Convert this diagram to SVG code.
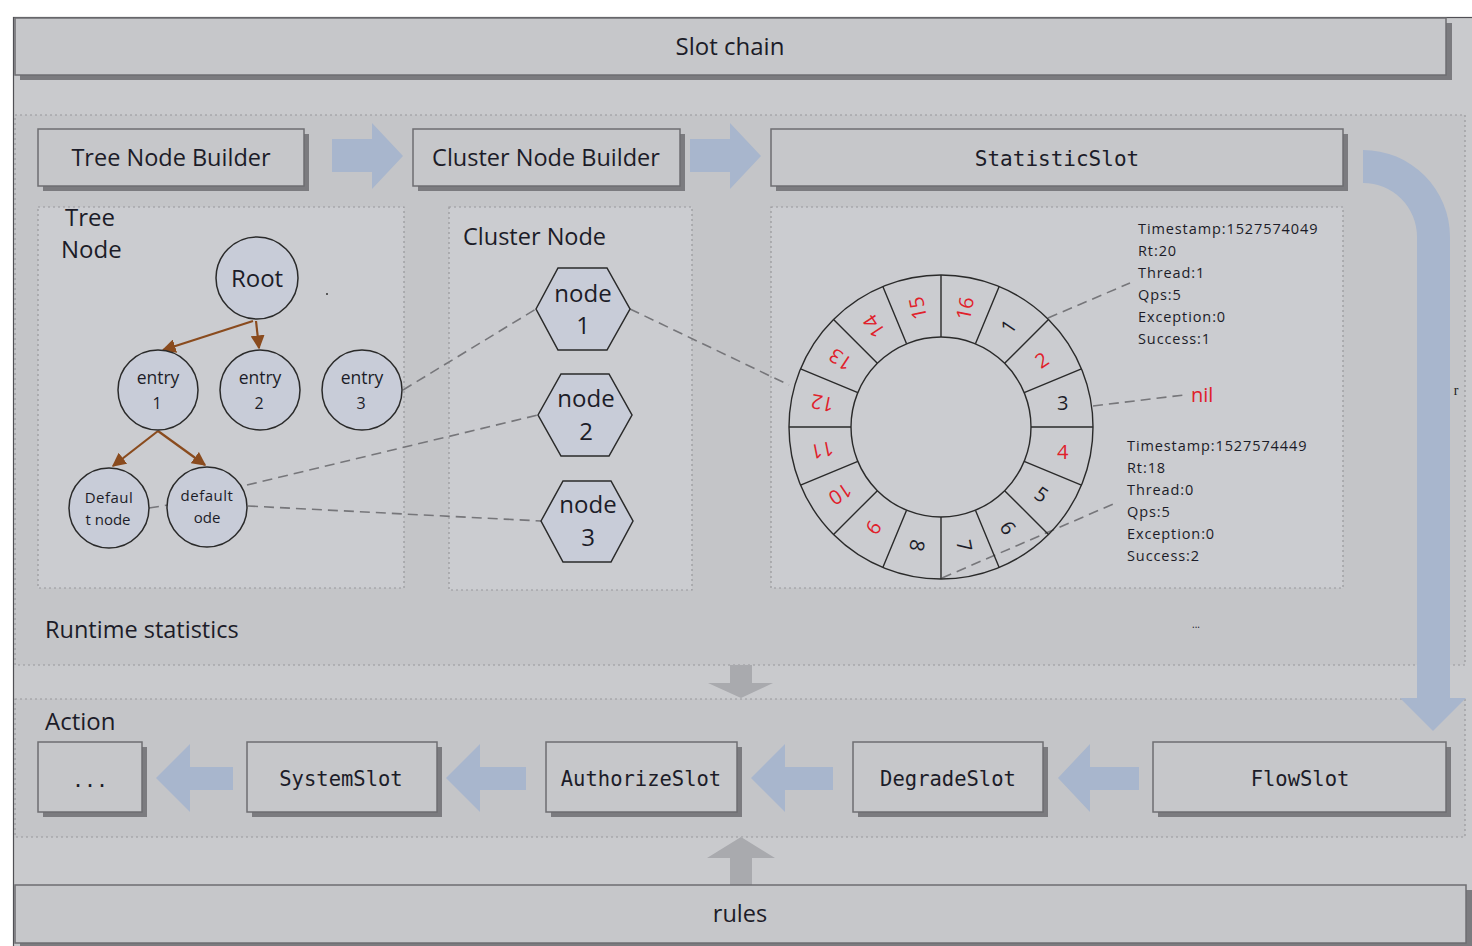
<svg xmlns="http://www.w3.org/2000/svg" width="1472" height="946" viewBox="0 0 1472 946">
<defs>
<style>
.t{font-family:"Open Sans","Noto Sans","Liberation Sans",sans-serif;fill:#1c1c28}
.m{font-family:"DejaVu Sans Mono","Liberation Mono",monospace;fill:#1c1c28}
.box{fill:#c6c7ca;stroke:#6e6e72;stroke-width:1.5}
.sh{fill:#7b7b7f}
.dot{fill:#c4c5c8;stroke:#98989c;stroke-width:1.2;stroke-dasharray:2 3}
.idot{fill:#cbccd0;stroke:#98989c;stroke-width:1.2;stroke-dasharray:2 3}
.blue{fill:#a8b6cd}
.gray{fill:#a9aaae}
.nd{fill:#c8ccd8;stroke:#2a2a2a;stroke-width:1.5}
.br{stroke:#8a4b1e;stroke-width:2.2;fill:none;marker-end:url(#ah)}
.dash{stroke:#76767a;stroke-width:1.6;fill:none;stroke-dasharray:10 6}
.ring{fill:none;stroke:#2a2a2a;stroke-width:1.4}
.rl{font-family:"Open Sans","Noto Sans","Liberation Sans",sans-serif;font-size:20px;text-anchor:middle;dominant-baseline:central}
.red{fill:#e0202a}
.blk{fill:#1c1c28}
.st{font-family:"Open Sans","Noto Sans","Liberation Sans",sans-serif;font-size:14.5px;letter-spacing:0.9px;fill:#1c1c28}
</style>
<marker id="ah" viewBox="0 0 10 10" refX="9" refY="5" markerWidth="14" markerHeight="14" markerUnits="userSpaceOnUse" orient="auto">
<path d="M0,0 L10,5 L0,10 Z" fill="#8a4b1e"/>
</marker>
</defs>

<rect x="0" y="0" width="1472" height="946" fill="#ffffff"/>
<rect x="13.5" y="17.5" width="1470" height="940" fill="#c9cacd" stroke="#505055" stroke-width="1.2"/>

<g id="slot-chain">
<rect class="sh" x="20" y="23" width="1432" height="57"/>
<rect class="box" x="15" y="18" width="1431" height="57"/>
<text class="t" x="730" y="55" font-size="24" text-anchor="middle">Slot chain</text>
</g>

<g id="runtime-region">
<rect class="dot" x="15" y="115" width="1450" height="550"/>
<text class="t" x="45" y="638" font-size="23.5">Runtime statistics</text>
<text class="t" x="1196" y="628" font-size="10" text-anchor="middle">...</text>
</g>

<g id="action-region">
<rect class="dot" x="15" y="699" width="1450" height="138"/>
<text class="t" x="45" y="730" font-size="24">Action</text>
</g>

<g id="tree-node-builder">
<rect class="sh" x="43" y="134" width="266" height="57"/>
<rect class="box" x="38" y="129" width="266" height="57"/>
<text class="t" x="171" y="166" font-size="23.5" text-anchor="middle">Tree Node Builder</text>
</g>
<g id="cluster-node-builder">
<rect class="sh" x="418" y="134" width="267" height="57"/>
<rect class="box" x="413" y="129" width="267" height="57"/>
<text class="t" x="546" y="166" font-size="23.5" text-anchor="middle">Cluster Node Builder</text>
</g>
<g id="statistic-slot">
<rect class="sh" x="776" y="134" width="572" height="57"/>
<rect class="box" x="771" y="129" width="572" height="57"/>
<text class="m" x="1057" y="166" font-size="21" text-anchor="middle">StatisticSlot</text>
</g>

<g id="tree-node-area">
<rect class="idot" x="38" y="207" width="366" height="381"/>
<text class="t" x="65" y="226" font-size="24">Tree</text>
<text class="t" x="61" y="258" font-size="24">Node</text>
<circle cx="327" cy="294" r="1" fill="#333"/>
</g>
<g id="cluster-node-area">
<rect class="idot" x="449" y="207" width="243" height="383"/>
<text class="t" x="463" y="245" font-size="23.5">Cluster Node</text>
</g>
<g id="statistic-area">
<rect class="idot" x="771" y="207" width="572" height="381"/>
</g>

<g id="connectors">
<line class="dash" x1="403" y1="390" x2="536" y2="309"/>
<line class="dash" x1="247" y1="485" x2="538" y2="415"/>
<line class="dash" x1="248" y1="506" x2="541" y2="521"/>
<line class="dash" x1="149" y1="508" x2="168" y2="505"/>
<line class="dash" x1="630" y1="309" x2="789" y2="385"/>
<line class="dash" x1="1048" y1="318" x2="1130" y2="283"/>
<line class="dash" x1="1093" y1="406" x2="1184" y2="395"/>
<line class="dash" x1="942" y1="578" x2="1118" y2="502"/>
<line class="br" x1="253" y1="321" x2="163" y2="350"/>
<line class="br" x1="256" y1="321" x2="259" y2="348"/>
<line class="br" x1="158" y1="431" x2="113" y2="466"/>
<line class="br" x1="158" y1="431" x2="205" y2="465"/>
<polygon class="blue" points="332,139 372,139 372,123 403,156 372,189 372,172 332,172"/>
<polygon class="blue" points="690,139 730,139 730,123 761,156 730,189 730,172 690,172"/>
<path class="blue" d="M1363,150 A87,87 0 0 1 1450,237 L1450,698 L1466,698 L1433,731 L1400,698 L1417,698 L1417,237 A54,54 0 0 0 1363,183 Z"/>
<polygon class="blue" points="233,767 190,767 190,744 156,778 190,812 190,790 233,790"/>
<polygon class="blue" points="526,767 480,767 480,744 446,778 480,812 480,790 526,790"/>
<polygon class="blue" points="833,767 785,767 785,744 751,778 785,812 785,790 833,790"/>
<polygon class="blue" points="1139,767 1090,767 1090,744 1058,778 1090,812 1090,790 1139,790"/>
<polygon class="gray" points="730,665 752,665 752,683 773,683 741,698 708,683 730,683"/>
<polygon class="gray" points="730,885 752,885 752,858 775,858 741,837 707,858 730,858"/>
</g>

<g id="root"><circle class="nd" cx="257" cy="278" r="41"/><text class="t" x="257" y="287" font-size="24" text-anchor="middle">Root</text></g>
<g id="entry1"><circle class="nd" cx="158" cy="390" r="40"/><text class="t" x="158" y="384" font-size="17.5" text-anchor="middle">entry</text><text class="t" x="157" y="409" font-size="16" text-anchor="middle">1</text></g>
<g id="entry2"><circle class="nd" cx="260" cy="390" r="40"/><text class="t" x="260" y="384" font-size="17.5" text-anchor="middle">entry</text><text class="t" x="259" y="409" font-size="16" text-anchor="middle">2</text></g>
<g id="entry3"><circle class="nd" cx="362" cy="390" r="40"/><text class="t" x="362" y="384" font-size="17.5" text-anchor="middle">entry</text><text class="t" x="361" y="409" font-size="16" text-anchor="middle">3</text></g>
<g id="default-node-1"><circle class="nd" cx="109" cy="508" r="40"/><text class="t" x="109" y="503" font-size="15" text-anchor="middle" letter-spacing="0.5">Defaul</text><text class="t" x="108" y="525" font-size="15" text-anchor="middle">t node</text></g>
<g id="default-node-2"><circle class="nd" cx="207" cy="507" r="40"/><text class="t" x="207" y="501" font-size="15" text-anchor="middle" letter-spacing="0.5">default</text><text class="t" x="207" y="523" font-size="15" text-anchor="middle">ode</text></g>

<g id="node1"><polygon class="nd" points="536,309 558,268 607,268 630,309 607,350 558,350"/><text class="t" x="583" y="302" font-size="24" text-anchor="middle">node</text><text class="t" x="583" y="334" font-size="24" text-anchor="middle">1</text></g>
<g id="node2"><polygon class="nd" points="538,415 561,374 609,374 632,415 609,456 561,456"/><text class="t" x="586" y="407" font-size="24" text-anchor="middle">node</text><text class="t" x="586" y="440" font-size="24" text-anchor="middle">2</text></g>
<g id="node3"><polygon class="nd" points="541,521 563,481 611,481 633,521 611,562 563,562"/><text class="t" x="588" y="513" font-size="24" text-anchor="middle">node</text><text class="t" x="588" y="546" font-size="24" text-anchor="middle">3</text></g>

<g id="ring">
<circle class="ring" cx="941" cy="427" r="152"/>
<circle class="ring" cx="941" cy="427" r="90"/>
<path class="ring" d="M941,337 L941,275 M975.44,343.85 L999.17,286.57 M1004.64,363.36 L1048.48,319.52 M1024.15,392.56 L1081.43,368.83 M1031,427 L1093,427 M1024.15,461.44 L1081.43,485.17 M1004.64,490.64 L1048.48,534.48 M975.44,510.15 L999.17,567.43 M941,517 L941,579 M906.56,510.15 L882.83,567.43 M877.36,490.64 L833.52,534.48 M857.85,461.44 L800.57,485.17 M851,427 L789,427 M857.85,392.56 L800.57,368.83 M877.36,363.36 L833.52,319.52 M906.56,343.85 L882.83,286.57"/>
<text class="rl red" transform="rotate(11.25 941 427) translate(941 306) rotate(-90)">16</text>
<text class="rl blk" transform="rotate(33.75 941 427) translate(941 306) rotate(-90)">1</text>
<text class="rl red" transform="rotate(56.25 941 427) translate(941 306) rotate(-90)">2</text>
<text class="rl blk" transform="rotate(78.75 941 427) translate(941 303) rotate(-78.75)">3</text>
<text class="rl red" transform="rotate(101.25 941 427) translate(941 303) rotate(-101.25)">4</text>
<text class="rl blk" transform="rotate(123.75 941 427) translate(941 306) rotate(-90)">5</text>
<text class="rl blk" transform="rotate(146.25 941 427) translate(941 306) rotate(-90)">6</text>
<text class="rl blk" transform="rotate(168.75 941 427) translate(941 306) rotate(-90)">7</text>
<text class="rl blk" transform="rotate(191.25 941 427) translate(941 306) rotate(-90)">8</text>
<text class="rl red" transform="rotate(213.75 941 427) translate(941 306) rotate(-90)">9</text>
<text class="rl red" transform="rotate(236.25 941 427) translate(941 306) rotate(-90)">10</text>
<text class="rl red" transform="rotate(258.75 941 427) translate(941 306) rotate(-90)">11</text>
<text class="rl red" transform="rotate(281.25 941 427) translate(941 306) rotate(-90)">12</text>
<text class="rl red" transform="rotate(303.75 941 427) translate(941 306) rotate(-90)">13</text>
<text class="rl red" transform="rotate(326.25 941 427) translate(941 306) rotate(-90)">14</text>
<text class="rl red" transform="rotate(348.75 941 427) translate(941 306) rotate(-90)">15</text>
</g>

<g id="stats-1">
<text class="st" x="1138" y="234">Timestamp:1527574049</text>
<text class="st" x="1138" y="256">Rt:20</text>
<text class="st" x="1138" y="278">Thread:1</text>
<text class="st" x="1138" y="300">Qps:5</text>
<text class="st" x="1138" y="322">Exception:0</text>
<text class="st" x="1138" y="344">Success:1</text>
</g>
<g id="nil"><text class="t" x="1191" y="402" font-size="20" style="fill:#e0202a">nil</text></g>
<g id="stats-2">
<text class="st" x="1127" y="451">Timestamp:1527574449</text>
<text class="st" x="1127" y="473">Rt:18</text>
<text class="st" x="1127" y="495">Thread:0</text>
<text class="st" x="1127" y="517">Qps:5</text>
<text class="st" x="1127" y="539">Exception:0</text>
<text class="st" x="1127" y="561">Success:2</text>
</g>
<text x="1456" y="395" font-family="Liberation Serif,serif" font-size="14" fill="#222" text-anchor="middle">r</text>

<g id="dots-slot"><rect class="sh" x="43" y="747" width="104" height="70"/><rect class="box" x="38" y="742" width="104" height="70"/><text class="m" x="90" y="787" font-size="20" text-anchor="middle">...</text></g>
<g id="system-slot"><rect class="sh" x="252" y="747" width="190" height="70"/><rect class="box" x="247" y="742" width="190" height="70"/><text class="m" x="341" y="786" font-size="20.5" text-anchor="middle">SystemSlot</text></g>
<g id="authorize-slot"><rect class="sh" x="551" y="747" width="191" height="70"/><rect class="box" x="546" y="742" width="191" height="70"/><text class="m" x="641" y="786" font-size="20.5" text-anchor="middle">AuthorizeSlot</text></g>
<g id="degrade-slot"><rect class="sh" x="858" y="747" width="190" height="70"/><rect class="box" x="853" y="742" width="190" height="70"/><text class="m" x="948" y="786" font-size="20.5" text-anchor="middle">DegradeSlot</text></g>
<g id="flow-slot"><rect class="sh" x="1158" y="747" width="293" height="70"/><rect class="box" x="1153" y="742" width="293" height="70"/><text class="m" x="1300" y="786" font-size="20.5" text-anchor="middle">FlowSlot</text></g>

<g id="rules">
<rect class="sh" x="20" y="890" width="1452" height="60"/>
<rect class="box" x="15" y="885" width="1451" height="58"/>
<text class="t" x="740" y="922" font-size="23.5" text-anchor="middle">rules</text>
</g>
</svg>
